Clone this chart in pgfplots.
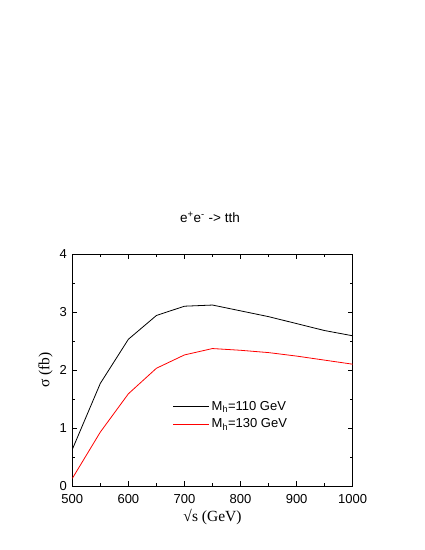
\documentclass[border=0pt]{standalone}
\usepackage{fontspec}
\setmainfont{Liberation Sans}
\newfontfamily\seriffont{Liberation Serif}
\usepackage{pgfplots}
\pgfplotsset{compat=1.18}
\begin{document}
\begin{tikzpicture}[x=1pt,y=1pt]
\path[use as bounding box] (0,0) rectangle (425,550);
\node[font=\fontsize{13.5}{15}\selectfont] at (210,333) {e\textsuperscript{+}e\textsuperscript{-} -> tth};
\begin{axis}[
  at={(72.3pt,64pt)}, anchor=south west,
  scale only axis, width=280.4pt, height=232pt,
  xmin=500, xmax=1000, ymin=0, ymax=4,
  xtick={500,600,...,1000}, ytick={0,1,2,3,4},
  minor xtick={550,650,...,950}, minor ytick={0.5,1.5,2.5,3.5},
  tick align=inside, tick pos=both,
  major tick length=5pt, minor tick length=3pt,
  every tick/.style={black, line width=0.6pt},
  axis line style={line width=0.9pt},
  /pgf/number format/assume math mode=true,
  /pgf/number format/set thousands separator={},
  ticklabel style={font=\fontsize{13}{15}\selectfont},
  xticklabel style={yshift=-5pt},
  yticklabel style={xshift=-2pt},
  xlabel={\seriffont\fontsize{15.5}{17}\selectfont √s (GeV)},
  ylabel={\seriffont\fontsize{15.5}{17}\selectfont σ (fb)},
  xlabel style={yshift=1pt},
  ylabel style={yshift=0pt},
  legend style={draw=none, fill=none, at={(0.358,0.375)}, anchor=north west,
    inner sep=0pt, font=\fontsize{13}{15}\selectfont,
    nodes={inner sep=2pt}, row sep=3pt},
  legend cell align=left,
  legend image code/.code={\draw[#1] (0pt,0pt) -- (36pt,0pt);},
]
\addplot[black, line width=0.8pt] coordinates {
(500,0.63) (550,1.77) (600,2.53) (650,2.94) (700,3.10) (750,3.12)
(800,3.02) (850,2.92) (900,2.80) (950,2.68) (1000,2.59)};
\addlegendentry{M\textsubscript{h}=110 GeV}
\addplot[red, line width=0.8pt] coordinates {
(500,0.13) (550,0.93) (600,1.59) (650,2.03) (700,2.26) (750,2.37)
(800,2.34) (850,2.30) (900,2.24) (950,2.17) (1000,2.10)};
\addlegendentry{M\textsubscript{h}=130 GeV}
\end{axis}
\end{tikzpicture}
\end{document}
